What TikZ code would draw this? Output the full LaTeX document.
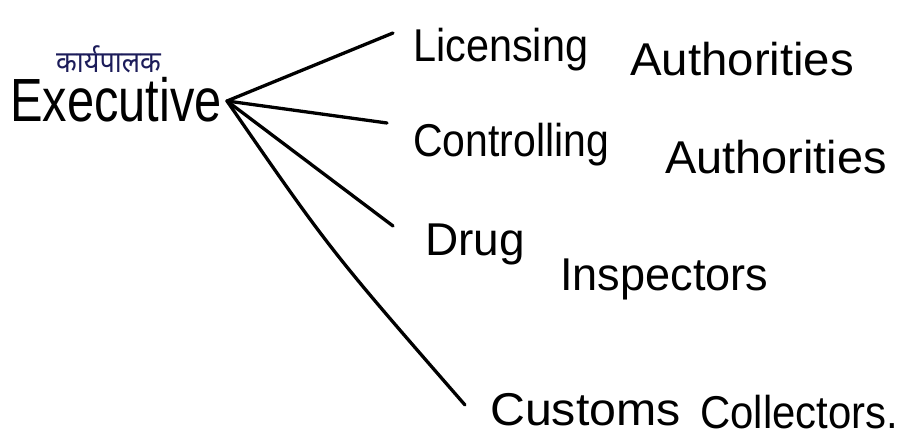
\documentclass[tikz,border=0pt]{standalone}
\usepackage{fontspec}
\usepackage{graphicx}
\setmainfont{Liberation Sans}
\newfontfamily\devfont[Script=Devanagari]{Noto Sans}
\definecolor{inkblue}{HTML}{1C1C5A}
% horizontal squeeze/stretch of a word
\newcommand{\hsq}[2]{\scalebox{#1}[1]{#2}}
\begin{document}
\begin{tikzpicture}[x=1pt,y=-1pt,
  word/.style={inner sep=0pt, anchor=base west, font=\fontsize{46}{50}\selectfont, text=black},
  branch/.style={line width=3.3pt, line cap=round, line join=round, draw=black}]
\useasboundingbox (0,0) rectangle (907,441);

% root
\node[inner sep=0pt, anchor=base west, font=\fontsize{61}{66}\selectfont] (exec) at (10,122) {\hsq{0.8}{Executive}};
\node[inner sep=0pt, anchor=base west, text=inkblue, font=\devfont\fontsize{30}{34}\selectfont] (hindi) at (56,73) {\hsq{0.9}{कार्यपालक}};
\coordinate (hub) at (227,101);

% branch labels
\node[word] (lic)   at (413,62)  {\hsq{0.90}{Licensing}};
\node[word] (licA)  at (630,76)  {\hsq{1.03}{Authorities}};
\node[word] (con)   at (413,157) {\hsq{0.89}{Controlling}};
\node[word] (conA)  at (665,173) {\hsq{1.02}{Authorities}};
\node[word] (drug)  at (425,255) {\hsq{1.00}{Drug}};
\node[word] (drugI) at (560,290) {\hsq{0.98}{Inspectors}};
\node[word] (cus)   at (490,425) {\hsq{1.05}{Customs}};
\node[word] (cusC)  at (700,428) {\hsq{0.91}{Collectors.}};

% free ends of the branches
\coordinate (e1) at (393,33);
\coordinate (e2) at (387,123);
\coordinate (e3) at (393,226);
\coordinate (e4) at (465,405);

\draw[branch] (hub) -- (e1);
\draw[branch] (hub) -- (e2);
\draw[branch] (hub) -- (e3);
\draw[branch] (hub) .. controls (330,250) .. (e4);
\end{tikzpicture}
\end{document}
